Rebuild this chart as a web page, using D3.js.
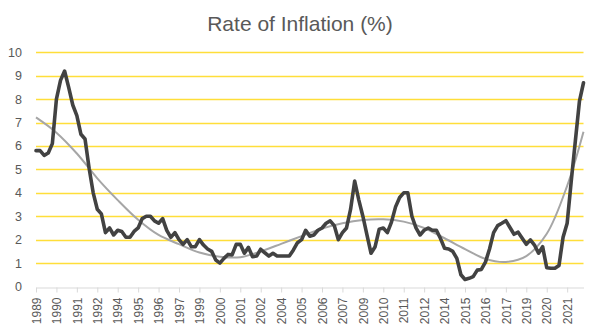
<!DOCTYPE html>
<html><head><meta charset="utf-8">
<script src="https://cdn.jsdelivr.net/npm/d3@7"></script>
<style>
html,body{margin:0;padding:0;background:#fff;}
svg{display:block;font-family:"Liberation Sans",Arial,sans-serif;}
</style></head>
<body><svg id="chart" width="600" height="332"></svg>
<script>
const title = "Rate of Inflation (%)";
const firstYear = 1989;
// quarterly category labels (year of each quarter)
const categories = d3.range(135).map(i => String(firstYear + Math.floor(i / 4)));
const tickLabels = ["1989","1990","1991","1992","1994","1995","1996","1997","1999","2000","2001","2002","2004","2005","2006","2007","2009","2010","2011","2012","2014","2015","2016","2017","2019","2020","2021"];
const inflation = [
 5.8,5.8,5.6,5.7,6.1,8.0,8.8,9.2,8.5,7.75,
 7.3,6.5,6.3,5.05,4.0,3.3,3.1,2.3,2.5,2.2,
 2.4,2.35,2.1,2.1,2.35,2.5,2.9,3.0,3.0,2.8,
 2.7,2.9,2.4,2.1,2.3,2.0,1.8,2.0,1.7,1.7,
 2.0,1.77,1.6,1.5,1.13,1.0,1.2,1.37,1.35,1.8,
 1.8,1.42,1.67,1.27,1.3,1.59,1.44,1.3,1.42,1.3,
 1.3,1.3,1.3,1.56,1.87,2.0,2.4,2.15,2.2,2.4,
 2.5,2.7,2.8,2.6,2.0,2.3,2.5,3.3,4.5,3.7,
 3.0,2.2,1.42,1.7,2.45,2.5,2.3,2.75,3.4,3.8,
 4.0,4.0,3.0,2.5,2.2,2.4,2.5,2.4,2.4,2.05,
 1.63,1.6,1.5,1.2,0.5,0.3,0.35,0.42,0.7,0.73,
 1.04,1.6,2.3,2.6,2.7,2.81,2.52,2.23,2.32,2.06,
 1.8,1.99,1.77,1.42,1.7,0.8,0.78,0.78,0.9,2.1,
 2.7,4.5,6.2,7.9,8.7
];
// trend line (polynomial trendline) read at sample categories
const trendIndex = [0,5,10,15,20,25,30,35,40,45,50,55,60,65,70,75,80,85,90,95,100,105,110,115,120,125,130,134];
const trendValues = [7.22,6.57,5.68,4.62,3.69,2.85,2.2,1.81,1.45,1.27,1.25,1.5,1.82,2.15,2.47,2.7,2.84,2.87,2.77,2.5,2.06,1.6,1.18,1.05,1.3,2.25,4.3,6.61];
const yTicks = [0,1,2,3,4,5,6,7,8,9,10];

const svg = d3.select("#chart");
const x = d3.scalePoint().domain(d3.range(categories.length)).range([36, 583.5]);
const y = d3.scaleLinear().domain([0, 10]).range([286.5, 52.3]);

svg.append("text").attr("x", 300).attr("y", 31).attr("text-anchor", "middle")
  .attr("font-size", 21).attr("fill", "#595959").text(title);

// gridlines
svg.append("g").selectAll("line").data(yTicks.filter(d => d > 0)).join("line")
  .attr("x1", 36).attr("x2", 583.5)
  .attr("y1", d => Math.round(y(d)) + 0.5).attr("y2", d => Math.round(y(d)) + 0.5)
  .attr("stroke", "#FFDE3A").attr("stroke-width", 1.3);

// y axis labels
const yAxis = svg.append("g").attr("transform", "translate(36,0)")
  .call(d3.axisLeft(y).tickValues(yTicks).tickSize(0).tickPadding(14).tickFormat(d3.format("d")));
yAxis.select(".domain").remove();
yAxis.selectAll("text").attr("font-size", 12.5).attr("fill", "#595959").attr("font-family", "Liberation Sans, Arial, sans-serif");

// x axis
const tickIdx = d3.range(0, categories.length, 5);
const xAxis = svg.append("g").attr("transform", "translate(0," + (Math.round(y(0)) + 0.5) + ")")
  .call(d3.axisBottom(x).tickValues(tickIdx).tickSize(5).tickSizeOuter(0)
    .tickFormat((d, i) => tickLabels[i]));
xAxis.select(".domain").attr("stroke", "#D9D9D9");
xAxis.selectAll(".tick line").attr("stroke", "#D9D9D9");
xAxis.selectAll("text").attr("font-size", 12).attr("fill", "#595959")
  .attr("font-family", "Liberation Sans, Arial, sans-serif")
  .attr("transform", "rotate(-90)").attr("text-anchor", "end")
  .attr("x", -10).attr("y", 0).attr("dy", "0.35em");

// trend line
svg.append("path").datum(trendIndex.map((d, i) => [d, trendValues[i]]))
  .attr("fill", "none").attr("stroke", "#A6A6A6").attr("stroke-width", 2)
  .attr("d", d3.line().x(d => x(d[0])).y(d => y(d[1])).curve(d3.curveCatmullRom.alpha(0.5)));

// data line
svg.append("path").datum(inflation)
  .attr("fill", "none").attr("stroke", "#424242").attr("stroke-width", 3.6)
  .attr("stroke-linejoin", "round").attr("stroke-linecap", "round")
  .attr("d", d3.line().x((d, i) => x(i)).y(d => y(d)));
</script></body></html>
